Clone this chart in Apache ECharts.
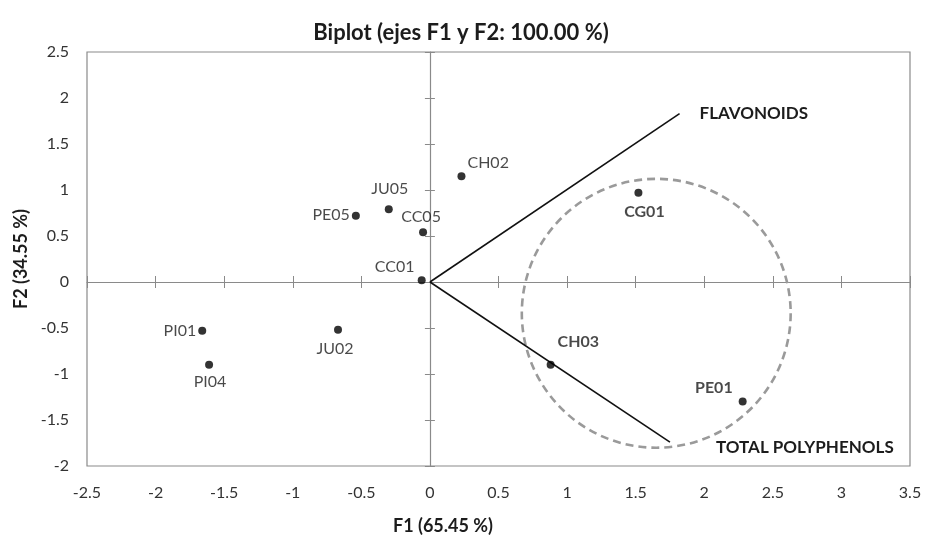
<!DOCTYPE html>
<html><head><meta charset="utf-8">
<script src="https://cdn.jsdelivr.net/npm/echarts@6/dist/echarts.min.js"></script>
<style>html,body{margin:0;padding:0;background:#fff}#c{width:926px;height:537px}</style>
</head><body><div id="c"></div>
<script>
// ---- data ----
const sampleNames = ['PI01','PI04','JU02','PE05','JU05','CC05','CC01','CH02','CG01','CH03','PE01'];
const sampleF1 = [-1.66,-1.61,-0.67,-0.54,-0.30,-0.05,-0.06,0.23,1.52,0.88,2.28];
const sampleF2 = [-0.53,-0.90,-0.52,0.72,0.79,0.54,0.02,1.15,0.97,-0.90,-1.30];
const variableNames = ['FLAVONOIDS','TOTAL POLYPHENOLS'];
const variableF1 = [1.82, 1.75];
const variableF2 = [1.83, -1.74];
const circleCenter = [1.65, -0.34];
const circleRadiusF1 = [0.98];
const xTickLabels = ['-2.5','-2','-1.5','-1','-0.5','0','0.5','1','1.5','2','2.5','3','3.5'];
const yTickLabels = ['-2','-1.5','-1','-0.5','0','0.5','1','1.5','2','2.5'];

// ---- style ----
const FONT = 'Lato, "Open Sans", sans-serif';
const GRAY = '#8a8a8a';
const TXT = '#1c1c1c';
const boldNames = ['CG01','CH03','PE01'];
const labelStyle = {
  PI01:{position:'left',distance:2,offset:[0,0]},
  PI04:{position:'bottom',distance:5,offset:[1,0]},
  JU02:{position:'bottom',distance:7,offset:[-3,0]},
  PE05:{position:'left',distance:2,offset:[0,-1]},
  JU05:{position:'top',distance:8,offset:[1,0]},
  CC05:{position:'top',distance:3,offset:[-2,0]},
  CC01:{position:'top',distance:1,offset:[-27,0]},
  CH02:{position:'right',distance:2,offset:[0,-13]},
  CG01:{position:'bottom',distance:7,offset:[6,0]},
  CH03:{position:'right',distance:3,offset:[0,-23]},
  PE01:{position:'left',distance:6,offset:[0,-14]}
};
const varLabelOffset = {FLAVONOIDS:[12,0],'TOTAL POLYPHENOLS':[38,5]};

function fmt(list){return v => { const s = list.find(t => Math.abs(parseFloat(t)-v) < 1e-6); return s === undefined ? '' : s; };}
const xMin = parseFloat(xTickLabels[0]), xMax = parseFloat(xTickLabels[xTickLabels.length-1]);
const yMin = parseFloat(yTickLabels[0]), yMax = parseFloat(yTickLabels[yTickLabels.length-1]);

const baseX = {type:'value',min:xMin,max:xMax,interval:0.5,splitLine:{show:false}};
const baseY = {type:'value',min:yMin,max:yMax,interval:0.5,splitLine:{show:false}};

const chart = echarts.init(document.getElementById('c'), null, {renderer:'canvas'});

const sampleData = sampleNames.map((n,i) => {
  const ls = labelStyle[n];
  return {
    name:n, value:[sampleF1[i], sampleF2[i]],
    label:{show:true, formatter:n, position:ls.position, distance:ls.distance, offset:ls.offset,
      fontWeight: boldNames.includes(n) ? 'bold' : 'normal'}
  };
});

const varSeries = variableNames.map((n,i) => ({
  type:'line', name:n, xAxisIndex:0, yAxisIndex:0,
  data:[[0,0],[variableF1[i], variableF2[i]]],
  symbol:'none', lineStyle:{color:'#111',width:1.6}, silent:true, z:3,
  endLabel:{show:true, formatter:n, fontFamily:FONT, fontSize:17, fontWeight:'bold', color:TXT,
    offset:varLabelOffset[n]}
}));

chart.setOption({
  animation:false,
  backgroundColor:'#fff',
  title:{text:'Biplot (ejes F1 y F2: 100.00 %)', left:456, top:17, textAlign:'center',
    textStyle:{fontFamily:FONT,fontSize:22,fontWeight:'bold',color:TXT}},
  grid:{left:87,right:16,top:52,bottom:71,show:true,borderColor:GRAY,borderWidth:1.2,containLabel:false},
  xAxis:[
    Object.assign({},baseX,{position:'bottom',axisLine:{show:false,onZero:false},axisTick:{show:false},
      axisLabel:{formatter:fmt(xTickLabels),fontFamily:FONT,fontSize:16,color:'#333',margin:19}}),
    Object.assign({},baseX,{position:'bottom',axisLine:{show:true,onZero:true,lineStyle:{color:GRAY,width:1.2}},
      axisTick:{show:true,inside:false,length:6,lineStyle:{color:GRAY}},axisLabel:{show:false}}),
    Object.assign({},baseX,{position:'bottom',axisLine:{show:false,onZero:true},
      axisTick:{show:true,inside:true,length:6,lineStyle:{color:GRAY}},axisLabel:{show:false}})
  ],
  yAxis:[
    Object.assign({},baseY,{position:'left',axisLine:{show:false,onZero:false},axisTick:{show:false},
      axisLabel:{formatter:fmt(yTickLabels),fontFamily:FONT,fontSize:16,color:'#333',margin:18},
      name:'F2 (34.55 %)',nameLocation:'middle',nameGap:57,nameRotate:90,
      nameTextStyle:{fontFamily:FONT,fontSize:18,fontWeight:'bold',color:TXT}}),
    Object.assign({},baseY,{position:'left',axisLine:{show:true,onZero:true,lineStyle:{color:GRAY,width:1.2}},
      axisTick:{show:true,inside:false,length:5,lineStyle:{color:GRAY}},axisLabel:{show:false}}),
    Object.assign({},baseY,{position:'left',axisLine:{show:false,onZero:true},
      axisTick:{show:true,inside:true,length:5,lineStyle:{color:GRAY}},axisLabel:{show:false}})
  ],
  graphic:[{type:'text',x:443,y:526,style:{text:'F1 (65.45 %)',font:'bold 18px '+FONT,fill:TXT,
    textAlign:'center',textVerticalAlign:'middle'}}],
  series:[
    {type:'custom', xAxisIndex:0, yAxisIndex:0, silent:true, z:1,
      data:[[circleCenter[0], circleCenter[1], circleRadiusF1[0]]],
      renderItem:(params, api) => {
        const c = api.coord([api.value(0), api.value(1)]);
        const r = api.size([api.value(2), 0])[0];
        return {type:'circle', shape:{cx:c[0],cy:c[1],r:r},
          style:{fill:'none',stroke:'#9a9a9a',lineWidth:2.6,lineDash:[8,5]}};
      }},
    ...varSeries,
    {type:'scatter', xAxisIndex:0, yAxisIndex:0, symbol:'circle', symbolSize:8, z:5,
      itemStyle:{color:'#000'},
      label:{fontFamily:FONT,fontSize:16,color:TXT},
      data:sampleData}
  ]
});
</script></body></html>
